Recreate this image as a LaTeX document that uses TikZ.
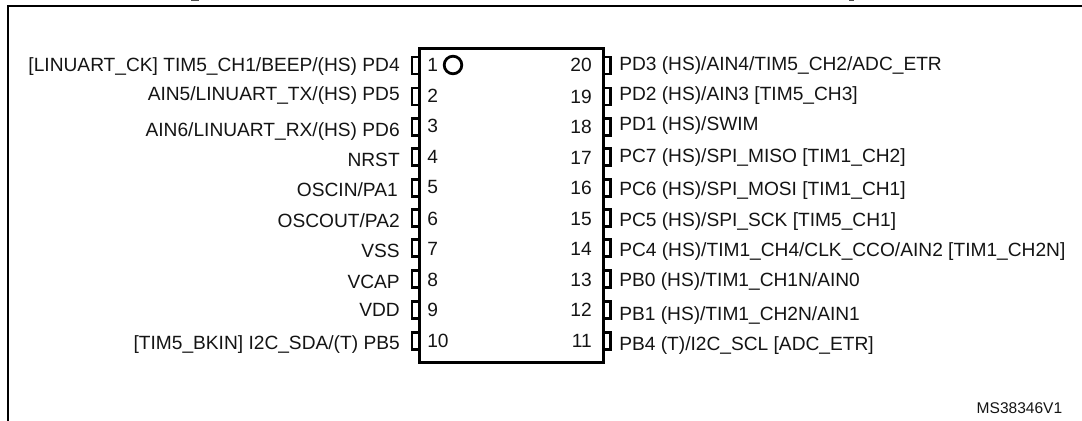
\documentclass[tikz,border=0pt]{standalone}
\usepackage{fontspec}
\setmainfont{Liberation Sans}
\begin{document}
\begin{tikzpicture}[x=0.75pt,y=-0.75pt,
  lbl/.style={font=\fontsize{14.37pt}{16pt}\selectfont,inner sep=0pt,text=black!92},
  ll/.style={lbl,anchor=base east},
  rl/.style={lbl,anchor=base west},
  chip/.style={draw=black,line width=2pt,outer sep=0pt,inner sep=0pt,minimum width=138.2pt,minimum height=235.1pt},
  pinbox/.style={draw=black,line width=1.9pt,outer sep=0pt,inner sep=0pt,minimum width=5.4pt,minimum height=13pt},
  frame/.style={draw=black,line width=1.5pt},
  clipped/.style={draw=black!70,line width=0.8pt}]
\useasboundingbox (0,0) rectangle (1082,421);
\coordinate (fa) at (7.5,421); \coordinate (fb) at (7.5,5.5); \coordinate (fc) at (1082,5.5);
\draw[frame] (fa) -- (fb) -- (fc);
\coordinate (ga) at (191,0.5); \coordinate (gb) at (199,0.5);
\coordinate (pa) at (849,0.5); \coordinate (pb) at (854,0.5);
\draw[clipped] (ga) -- (gb);
\draw[clipped] (pa) -- (pb);
\node[chip,anchor=north west] (ic) at (419.2,48.8) {};
\node[draw=black,line width=2.1pt,circle,outer sep=0pt,minimum size=13.2pt,inner sep=0pt] (dot) at (453,65) {};
\foreach \i/\y in {1/65.5,2/96.5,3/127,4/157,5/188,6/218,7/248,8/279,9/310,10/341}{
  \node[pinbox,anchor=east] (pl\i) at (419.2,\y) {};
}
\foreach \i/\y in {20/65.5,19/96.5,18/127,17/157,16/188,15/218,14/248,13/279,12/310,11/341}{
  \node[pinbox,anchor=west] (pr\i) at (603.3,\y) {};
}
\foreach \i/\y in {1/71,2/102.3,3/132.3,4/163.3,5/193.3,6/225,7/255.7,8/286,9/316.7,10/347.3}{
  \node[rl] (nl\i) at (427,\y) {\i};
}
\foreach \i/\y in {20/71.7,19/103.3,18/133.3,17/164,16/194,15/225,14/255.7,13/286,12/316.7,11/347.3}{
  \node[ll] (nr\i) at (592,\y) {\i};
}
\node[ll] (a1) at (400,71.7) {[LINUART\_CK] TIM5\_CH1/BEEP/(HS) PD4};
\node[ll] (a2) at (400,100.7) {AIN5/LINUART\_TX/(HS) PD5};
\node[ll] (a3) at (400,136) {AIN6/LINUART\_RX/(HS) PD6};
\node[ll] (a4) at (400,166.7) {NRST};
\node[ll] (a5) at (398,196.7) {OSCIN/PA1};
\node[ll] (a6) at (400,227.7) {OSCOUT/PA2};
\node[ll] (a7) at (400,257.3) {VSS};
\node[ll] (a8) at (400,288.3) {VCAP};
\node[ll] (a9) at (400,316) {VDD};
\node[ll] (a10) at (400,349) {[TIM5\_BKIN] I2C\_SDA/(T) PB5};
\node[rl] (b20) at (619,70) {PD3 (HS)/AIN4/TIM5\_CH2/ADC\_ETR};
\node[rl] (b19) at (619,100) {PD2 (HS)/AIN3 [TIM5\_CH3]};
\node[rl] (b18) at (619,130.7) {PD1 (HS)/SWIM};
\node[rl] (b17) at (619,162.7) {PC7 (HS)/SPI\_MISO [TIM1\_CH2]};
\node[rl] (b16) at (619,195) {PC6 (HS)/SPI\_MOSI [TIM1\_CH1]};
\node[rl] (b15) at (619,226) {PC5 (HS)/SPI\_SCK [TIM5\_CH1]};
\node[rl] (b14) at (619,256) {PC4 (HS)/TIM1\_CH4/CLK\_CCO/AIN2 [TIM1\_CH2N]};
\node[rl] (b13) at (619,286) {PB0 (HS)/TIM1\_CH1N/AIN0};
\node[rl] (b12) at (619,320) {PB1 (HS)/TIM1\_CH2N/AIN1};
\node[rl] (b11) at (619,350) {PB4 (T)/I2C\_SCL [ADC\_ETR]};
\node[lbl,anchor=base east,font=\fontsize{11.65pt}{13pt}\selectfont] (ms) at (1062.5,413) {MS38346V1};
\end{tikzpicture}
\end{document}
